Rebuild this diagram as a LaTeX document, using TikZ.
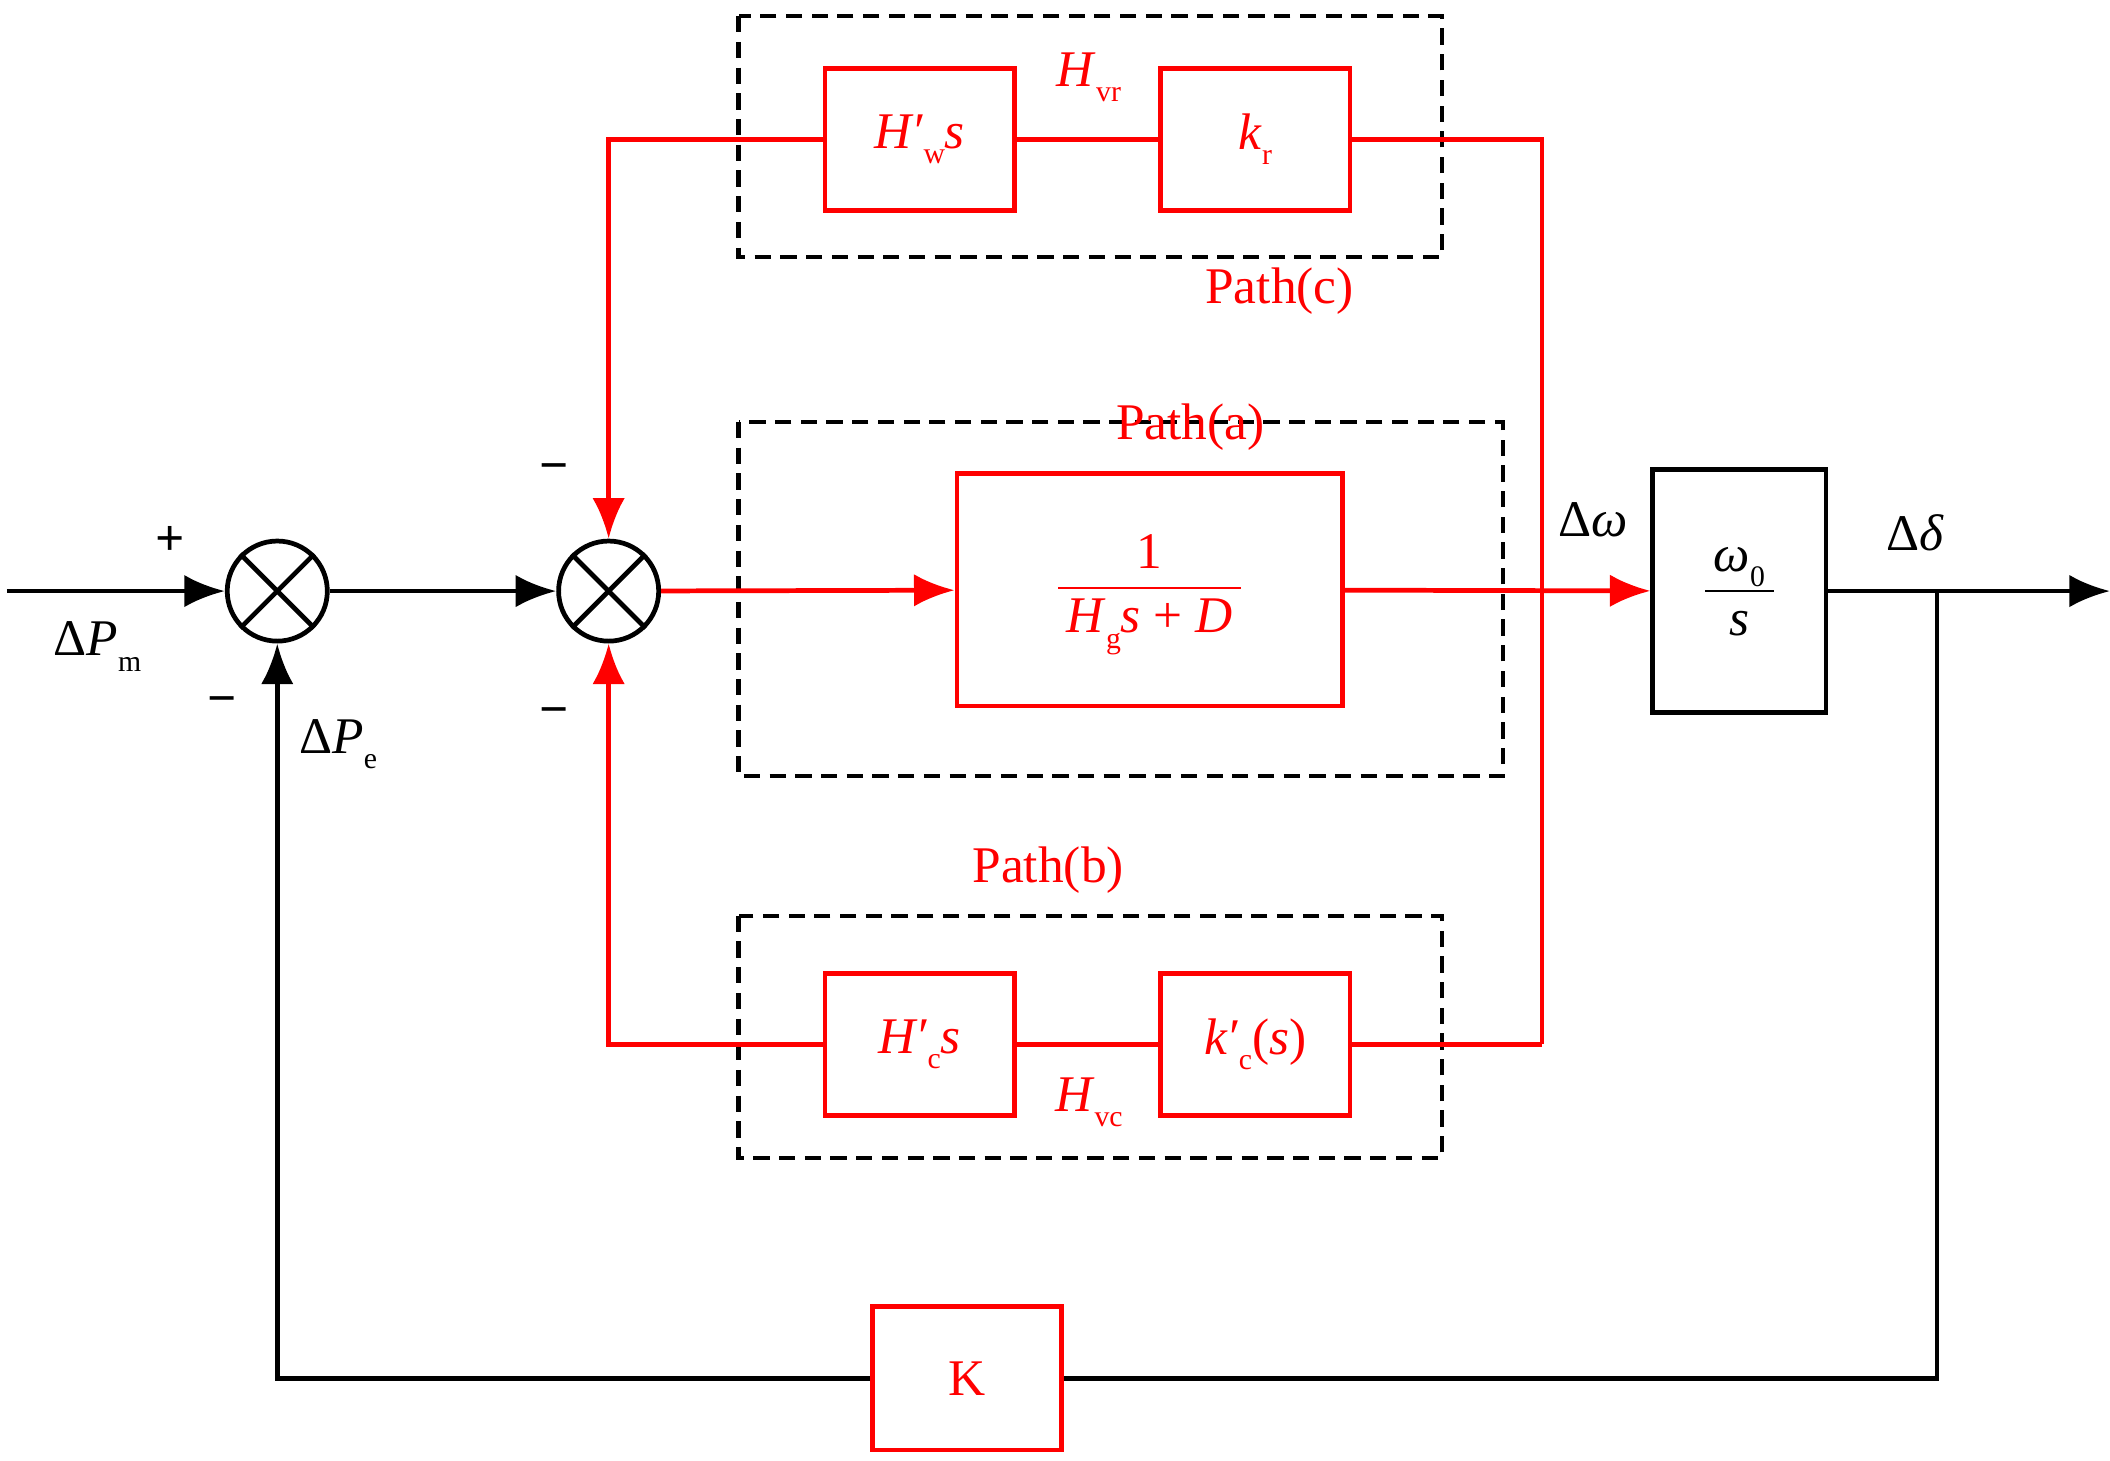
\documentclass[tikz,border=0pt]{standalone}
\usepackage{fontspec}
\setmainfont{Liberation Serif}
\usetikzlibrary{arrows.meta}
\newcommand\vi[1]{\textit{#1}}
\newcommand\sbs[1]{\raisebox{-0.3em}{\fontsize{22}{24}\selectfont #1}}
\newcommand\myfrac[2]{{\setlength\arrayrulewidth{1.5pt}\renewcommand\arraystretch{1.1}\begin{tabular}{@{\,}c@{\,}}#1\\\hline #2\end{tabular}}}
\begin{document}
\begin{tikzpicture}[x=1pt,y=-1pt,
  every node/.style={font=\fontsize{38}{42}\selectfont},
  blk/.style={draw=red,line width=3.5pt,minimum width=140pt,minimum height=105pt,inner sep=0pt,text=red},
  dsh/.style={draw=black,dashed,line width=3pt,dash pattern=on 12pt off 7pt},
  wire/.style={line width=3.5pt},
  rw/.style={wire,red},
  arr/.style={-{Latex[length=30pt,width=24pt]}},
  sum/.style={circle,draw=black,line width=3.5pt,minimum size=74pt,inner sep=0pt},
  lbl/.style={text=red}]
\useasboundingbox (0,0) rectangle (1560,1080);
% dashed groups
\draw[dsh] (546,12) rectangle (1066,190);
\draw[dsh] (546,312) rectangle (1111,574);
\draw[dsh] (546,677) rectangle (1066,856);
% sums
\node[sum] (s1) at (205,437) {};
\node[sum] (s2) at (450,437) {};
\foreach \s in {s1,s2}{
 \draw[line width=3.5pt] (\s.north east) -- (\s.south west) (\s.north west) -- (\s.south east);}
% blocks
\node[blk,minimum width=285pt,minimum height=172pt] (a) at (850,436) {\myfrac{1}{\vi{H}\sbs{g}\vi{s} + \vi{D}}};
\node[draw=black,line width=3.5pt,minimum width=128pt,minimum height=180pt,inner sep=0pt] (w) at (1286,437) {\myfrac{\vi{ω}\sbs{0}}{\vi{s}}};
\node[blk] (hw) at (680,103) {\vi{H′}\sbs{w}\vi{s}};
\node[blk] (kr) at (928,103) {\vi{k}\sbs{r}};
\node[blk] (hc) at (680,772) {\vi{H′}\sbs{c}\vi{s}};
\node[blk] (kc) at (928,772) {\vi{k′}\sbs{c}(\vi{s})};
\node[blk,minimum height=106pt] (K) at (715,1019) {K};
% coordinates
\coordinate (in) at (5,437);
\coordinate (out) at (1560,437);
\coordinate (ct) at (1140,103);
\coordinate (cb) at (1140,772);
\coordinate (fb) at (1432,437);
% black wires
\draw[wire,arr] (in) -- (s1);
\draw[wire,arr] (s1) -- (s2);
\draw[wire,arr] (w) -- (out);
\draw[wire] (fb) |- (K);
\draw[wire,arr] (K) -| (s1);
% red wires
\draw[rw,arr] (s2) -- (a);
\draw[rw,arr] (a) -- (w);
\draw[rw] (cb) -- (ct) -- (kr) -- (hw);
\draw[rw,arr] (hw) -| (s2);
\draw[rw] (cb) -- (kc) -- (hc);
\draw[rw,arr] (hc) -| (s2);
% labels
\node at (126,400) {\bfseries +};
\node at (164,522) {\bfseries −};
\node at (410,350) {\bfseries −};
\node at (410,530) {\bfseries −};
\node at (72,478) {Δ\vi{P}\sbs{m}};
\node at (250,550) {Δ\vi{P}\sbs{e}};
\node at (1178,384) {Δ\vi{ω}};
\node at (1416,394) {Δ\vi{δ}};
\node[lbl] at (805,57) {\vi{H}\sbs{vr}};
\node[lbl] at (805,815) {\vi{H}\sbs{vc}};
\node[lbl] at (946,215) {Path(c)};
\node[lbl] at (880,316) {Path(a)};
\node[lbl] at (775,643) {Path(b)};
\end{tikzpicture}
\end{document}
